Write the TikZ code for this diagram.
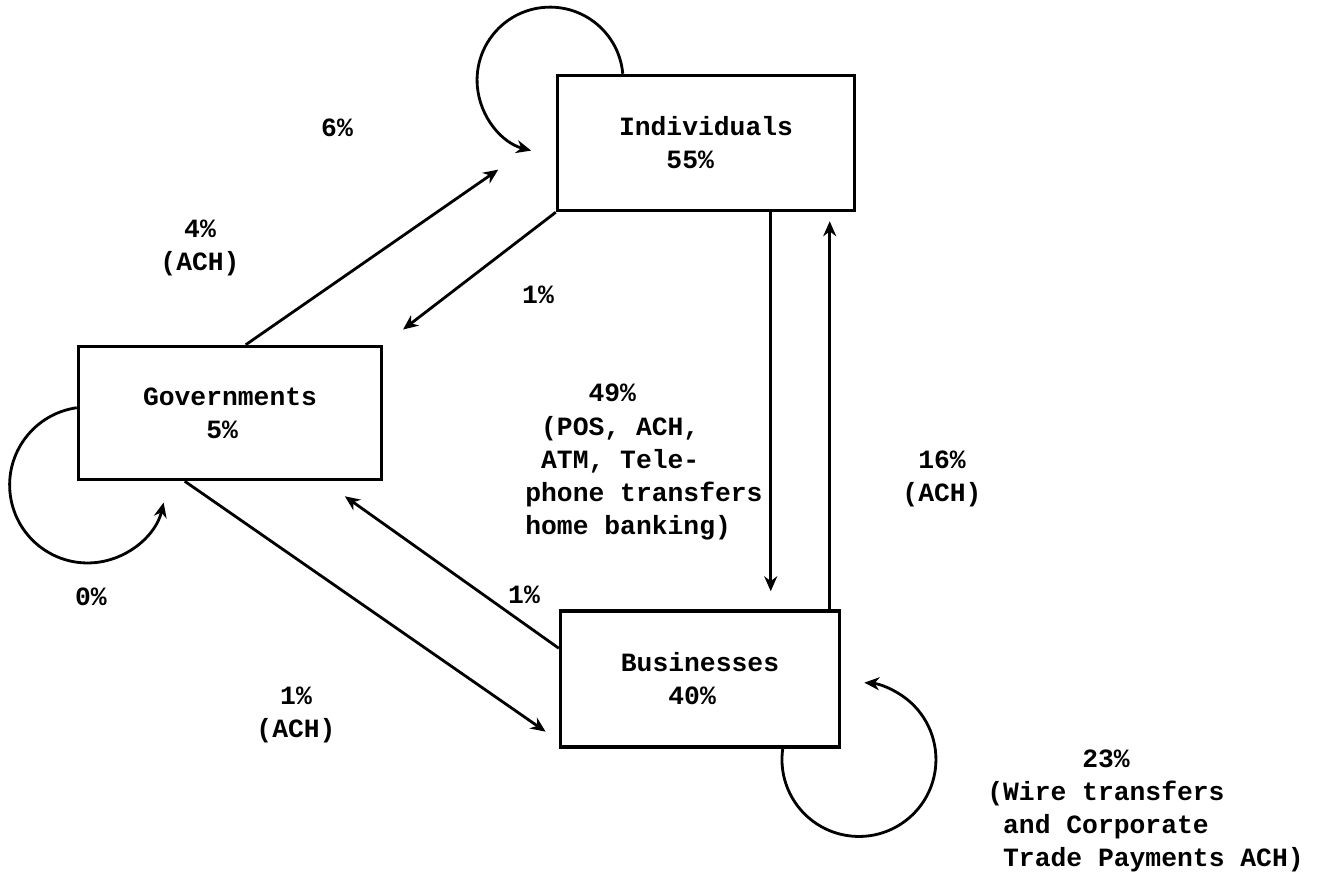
\documentclass[tikz,border=0pt]{standalone}
\usepackage{fontspec}
\setmonofont{Liberation Mono}
\usepackage{tikz}
\usetikzlibrary{arrows.meta, positioning, calc}
\tikzset{
  sector/.style={rectangle, draw=black, line width=2pt, fill=white,
    align=left, font={\ttfamily\bfseries\fontsize{15}{18.8}\selectfont}},
  etiqueta/.style={inner sep=0pt, align=center,
    font={\ttfamily\bfseries\fontsize{15}{18.8}\selectfont}},
  flujo/.style={-{Stealth[length=3mm, width=2.6mm]}, line width=1.6pt}
}

\begin{document}
\begin{tikzpicture}[x=0.02cm, y=-0.02cm]

  \useasboundingbox (0,0) rectangle (1317,879);

  % --- Sectores ---
  \node[sector, minimum width=5.94cm, minimum height=2.7cm] (ind) at (706,143)
    {Individuals\\~~~55\%};
  \node[sector, minimum width=6.06cm, minimum height=2.66cm] (gov) at (230,413)
    {Governments\\~~~~5\%};
  \node[sector, minimum width=5.58cm, minimum height=2.72cm] (bus) at (700,679)
    {Businesses\\~~~40\%};

  % --- Pagos dentro del mismo sector ---
  \draw[flujo] ([xshift=1.34cm]ind.north west) arc[start angle=5, end angle=255, radius=1.46cm];
  \draw[flujo] ([yshift=-1.26cm]gov.north west) arc[start angle=98, end angle=347, radius=1.56cm];
  \draw[flujo] ([xshift=4.48cm]bus.south west) arc[start angle=172, end angle=446, radius=1.54cm];

  % --- Individuals y Governments ---
  \draw[flujo, shorten >=1.4cm] ([xshift=3.38cm]gov.north west) -- ([yshift=-1.12cm]ind.north west);
  \draw[flujo, shorten >=0.5cm] (ind.south west) -- (gov.north east);

  % --- Individuals y Businesses ---
  \coordinate (baja) at ([xshift=4.3cm]ind.south west);
  \coordinate (sube) at ([xshift=5.42cm]bus.north west);
  \draw[flujo, shorten >=0.36cm] (baja) -- (baja |- bus.north);
  \draw[flujo, shorten >=0.18cm] (sube) -- (sube |- ind.south);

  % --- Governments y Businesses ---
  \draw[flujo, shorten >=0.32cm] ([xshift=2.16cm]gov.south west) -- ([yshift=0.16cm]bus.south west);
  \draw[flujo, shorten >=0.52cm] ([yshift=-0.78cm]bus.north west) -- ([xshift=4.94cm]gov.south west);

  % --- Etiquetas ---
  \node[etiqueta] (l6) at (337,128) {6\%};
  \node[etiqueta] (l4) at (200,248) {4\%\\(ACH)};
  \node[etiqueta] (l1a) at (538,295) {1\%};
  \node[etiqueta, align=left, anchor=west] (l49) at (525,462)
    {~~~~49\%\\~(POS, ACH,\\~ATM, Tele-\\phone transfers\\home banking)};
  \node[etiqueta] (l16) at (942,479) {16\%\\(ACH)};
  \node[etiqueta] (l1b) at (524,595) {1\%};
  \node[etiqueta] (l0) at (91,597) {0\%};
  \node[etiqueta] (l1c) at (296,715) {1\%\\(ACH)};
  \node[etiqueta, align=left, anchor=west] (l23) at (987,811)
    {~~~~~~23\%\\(Wire transfers\\~and Corporate\\~Trade Payments ACH)};

\end{tikzpicture}
\end{document}
